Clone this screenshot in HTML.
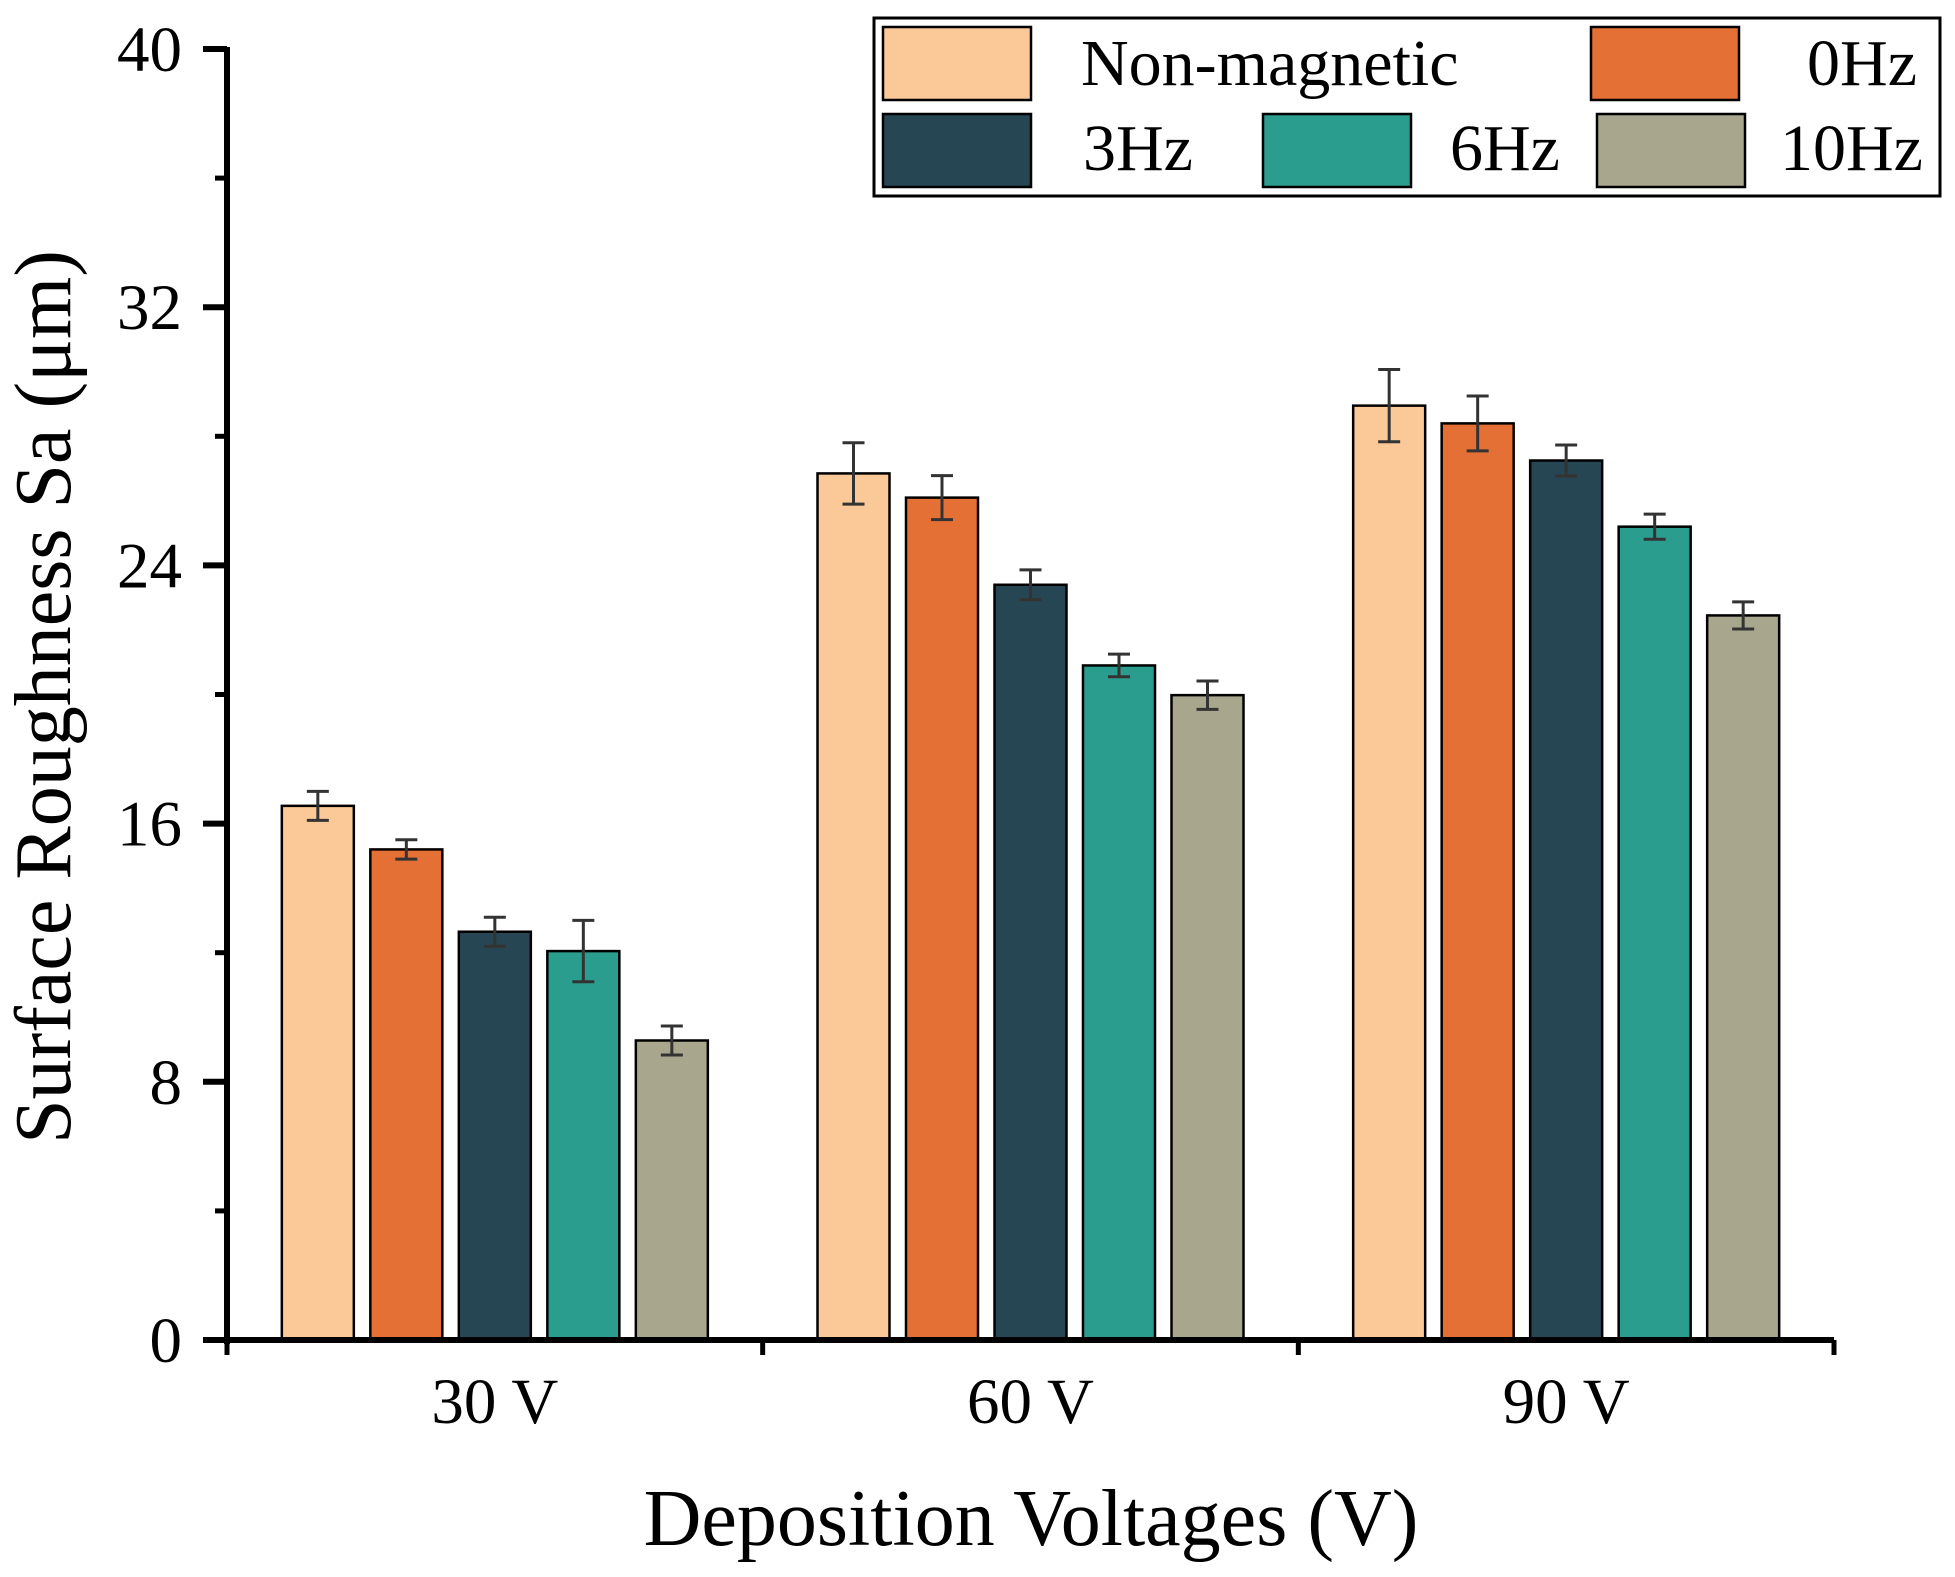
<!DOCTYPE html>
<html><head><meta charset="utf-8"><style>
html,body{margin:0;padding:0;background:#fff;}
svg{display:block;font-family:"Liberation Serif",serif;}
</style></head><body>
<svg id="chart" width="1955" height="1577" viewBox="0 0 1955 1577" xmlns="http://www.w3.org/2000/svg">
<g id="bars"></g>
<g id="axes"></g>
<text transform="translate(70,697) rotate(-90)" text-anchor="middle" font-size="80">Surface Roughness Sa (μm)</text>
<text x="1031" y="1545" text-anchor="middle" font-size="80">Deposition Voltages (V)</text>
<g>
<rect x="874" y="18" width="1066" height="178" fill="#fff" stroke="#000" stroke-width="3"/>
<rect x="883" y="27" width="148" height="73" fill="#FBC897" stroke="#000" stroke-width="2.5"/>
<text x="1081" y="85" font-size="66">Non-magnetic</text>
<rect x="1591" y="27" width="148" height="73" fill="#E57035" stroke="#000" stroke-width="2.5"/>
<text x="1917" y="85" font-size="66" text-anchor="end">0Hz</text>
<rect x="883" y="114" width="148" height="73" fill="#264653" stroke="#000" stroke-width="2.5"/>
<text x="1083" y="170" font-size="66">3Hz</text>
<rect x="1263" y="114" width="148" height="73" fill="#2A9D8F" stroke="#000" stroke-width="2.5"/>
<text x="1450" y="170" font-size="66">6Hz</text>
<rect x="1597" y="114" width="148" height="73" fill="#A8A78D" stroke="#000" stroke-width="2.5"/>
<text x="1780" y="170" font-size="66">10Hz</text>
</g>
</svg>
<script>
const categories = ["30 V", "60 V", "90 V"];
const seriesNames = ["Non-magnetic", "0Hz", "3Hz", "6Hz", "10Hz"];
const nonMagnetic = [16.55, 26.85, 28.95];
const hz0 = [15.2, 26.1, 28.4];
const hz3 = [12.65, 23.4, 27.25];
const hz6 = [12.05, 20.9, 25.2];
const hz10 = [9.28, 19.98, 22.45];
const errNonMagnetic = [0.45, 0.95, 1.12];
const errHz0 = [0.3, 0.68, 0.85];
const errHz3 = [0.45, 0.46, 0.48];
const errHz6 = [0.95, 0.35, 0.39];
const errHz10 = [0.45, 0.44, 0.42];
const yTicks = [0, 8, 16, 24, 32, 40];
const yMinorTicks = [4, 12, 20, 28, 36];

const colors = ["#FBC897", "#E57035", "#264653", "#2A9D8F", "#A8A78D"];
const series = [nonMagnetic, hz0, hz3, hz6, hz10];
const errs = [errNonMagnetic, errHz0, errHz3, errHz6, errHz10];
const NS = "http://www.w3.org/2000/svg";
const X0 = 227, X1 = 1834, Y0 = 1340, Y40 = 49;
const yScale = v => Y0 - (v / 40) * (Y0 - Y40);
const groupW = (X1 - X0) / categories.length;
const pitch = 88.5, barW = 72;
const barX = (gi, si) => X0 + groupW * (gi + 0.5) + (si - (series.length - 1) / 2) * pitch - barW / 2;
function mk(tag, attrs, parent) {
  const e = document.createElementNS(NS, tag);
  for (const k in attrs) e.setAttribute(k, attrs[k]);
  parent.appendChild(e);
  return e;
}
const gb = document.getElementById('bars');
series.forEach((vals, si) => {
  vals.forEach((v, gi) => {
    const x = barX(gi, si);
    const r = mk('rect', {x: x, y: yScale(v), width: barW, height: Y0 - yScale(v), fill: colors[si], stroke: '#000', 'stroke-width': 2.5}, gb);
    
    
    const cx = x + barW / 2, e = errs[si][gi];
    const eb = mk('path', {d: `M${cx},${yScale(v + e)}V${yScale(v - e)}M${cx - 11},${yScale(v + e)}H${cx + 11}M${cx - 11},${yScale(v - e)}H${cx + 11}`, stroke: '#333', 'stroke-width': 3, fill: 'none'}, gb);
    
    
  });
});
const ga = document.getElementById('axes');
const yl = mk('line', {x1: X0, y1: Y40 - 2, x2: X0, y2: Y0 + 4, stroke: '#000', 'stroke-width': 6}, ga);


const xl = mk('line', {x1: X0 - 3, y1: Y0, x2: X1, y2: Y0, stroke: '#000', 'stroke-width': 6}, ga);


yTicks.forEach(t => {
  const y = yScale(t);
  const tk = mk('line', {x1: X0 - 24, y1: y, x2: X0, y2: y, stroke: '#000', 'stroke-width': 6}, ga);
  
  
  const tl = mk('text', {x: 182, y: y + 22, 'text-anchor': 'end', 'font-size': 65}, ga);
  tl.textContent = t;
  
  
});
yMinorTicks.forEach(t => {
  const y = yScale(t);
  const tk = mk('line', {x1: X0 - 12, y1: y, x2: X0, y2: y, stroke: '#000', 'stroke-width': 5}, ga);
  
  
});
for (let i = 0; i <= categories.length; i++) {
  const x = X0 + groupW * i;
  const tk = mk('line', {x1: x, y1: Y0, x2: x, y2: Y0 + 15, stroke: '#000', 'stroke-width': 5}, ga);
  
  
}
categories.forEach((c, i) => {
  const tl = mk('text', {x: X0 + groupW * (i + 0.5), y: 1423, 'text-anchor': 'middle', 'font-size': 65}, ga);
  tl.textContent = c;
  
  
});
</script>
</body></html>
